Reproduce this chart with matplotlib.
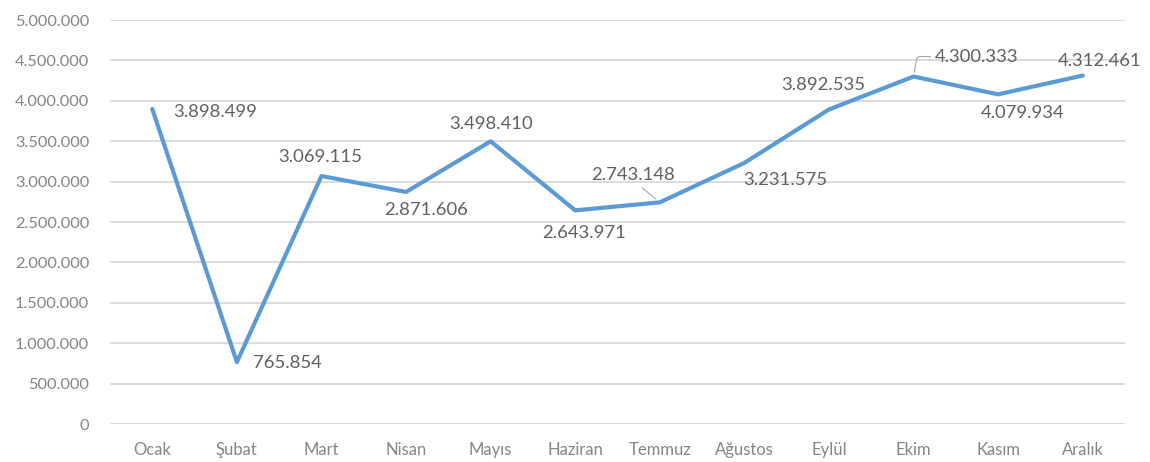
import matplotlib.pyplot as plt
from matplotlib.ticker import FuncFormatter

months = ["Ocak", "Şubat", "Mart", "Nisan", "Mayıs", "Haziran",
          "Temmuz", "Ağustos", "Eylül", "Ekim", "Kasım", "Aralık"]
values = [3898499, 765854, 3069115, 2871606, 3498410, 2643971,
          2743148, 3231575, 3892535, 4300333, 4079934, 4312461]

# label offsets (pixels, from point to label centre)
label_offsets = [(63, -3), (51, -1), (-1, 19), (20, -18), (0, 17), (9, -23),
                 (-27, 27), (41, -17), (-6, 24), (63, 20), (25, -19), (17, 15)]


def tr_fmt(v):
    return f"{int(round(v)):,}".replace(",", ".")


plt.rcParams['font.family'] = ['Lato', 'DejaVu Sans']

fig = plt.figure(figsize=(11.5, 4.62), dpi=100)
ax = fig.add_axes([110 / 1150, 38 / 462, (1125 - 110) / 1150, (424 - 20) / 462])

x = list(range(len(months)))
ax.plot(x, values, color='#5B9BD5', lw=3.0, solid_joinstyle='round',
        solid_capstyle='round', zorder=3)

for i, (v, (dx, dy)) in enumerate(zip(values, label_offsets)):
    arrow = None
    if months[i] == "Temmuz":
        arrow = dict(arrowstyle='-', color='#a6a6a6', lw=0.8,
                     relpos=(0.55, 0.0), shrinkA=2, shrinkB=4)
    elif months[i] == "Ekim":
        arrow = dict(arrowstyle='-', color='#a6a6a6', lw=0.8,
                     relpos=(0.0, 0.5), shrinkA=1, shrinkB=3,
                     connectionstyle='angle,angleA=0,angleB=80,rad=3')
    ax.annotate(tr_fmt(v), (i, v), xytext=(dx, dy), textcoords='offset pixels',
                ha='center', va='center', fontsize=13.3, color='#606060',
                arrowprops=arrow, zorder=4)

ax.set_xlim(-0.5, 11.5)
ax.set_ylim(0, 5000000)
ax.set_yticks(range(0, 5000001, 500000))
ax.yaxis.set_major_formatter(FuncFormatter(lambda v, p: tr_fmt(v)))
ax.set_xticks(x)
ax.set_xticklabels(months)

ax.grid(axis='y', color='#d9d9d9', lw=1.3)
ax.set_axisbelow(True)
for s in ax.spines.values():
    s.set_visible(False)
ax.tick_params(axis='both', length=0, colors='#858585', labelsize=11.8)
ax.tick_params(axis='y', pad=15)
ax.tick_params(axis='x', pad=13, labelsize=12)

fig.savefig("out.png", dpi=100)
